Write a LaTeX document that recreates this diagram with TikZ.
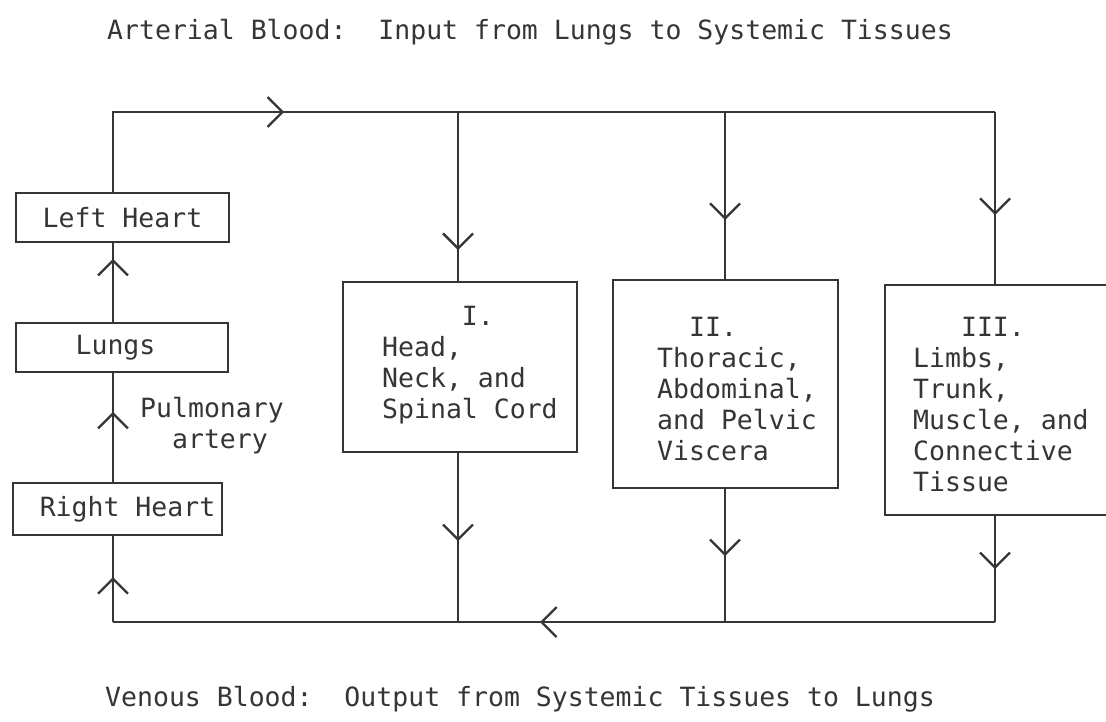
\documentclass[tikz,border=0pt]{standalone}
\usepackage{fontspec}
\newfontfamily\tw{DejaVu Sans Mono}
\usetikzlibrary{arrows.meta,decorations.markings}
\definecolor{ink}{HTML}{353535}
\begin{document}
\begin{tikzpicture}[x=1pt,y=-1pt,
  every node/.style={font=\tw\fontsize{26.5}{31}\selectfont, text=ink},
  line/.style={draw=ink, line width=2.4pt, line join=miter},
  box/.style={draw=ink, line width=2.4pt, inner sep=0pt},
  txt/.style={anchor=west, align=left, inner sep=0pt},
  midarr/.style={postaction={decorate,decoration={markings,
      mark=at position #1 with {\arrow[ink]{Straight Barb[length=15pt,width=30pt,line width=2.3pt]}}}}},
]
\useasboundingbox (0,0) rectangle (1106,721);

% titles
\node[anchor=base west, inner sep=0pt] (top) at (107,39)
  {Arterial Blood:\ \ Input from Lungs to Systemic Tissues};
\node[anchor=base west, inner sep=0pt] (bot) at (105,706)
  {Venous Blood:\ \ Output from Systemic Tissues to Lungs};

% left chain boxes
\node[box, minimum width=213pt, minimum height=49pt] (LH) at (122.5,217.5) {Left Heart};
\node[box, minimum width=212pt, minimum height=49pt] (LU) at (122,347.5) {Lungs\hspace*{13pt}};
\node[box, minimum width=209pt, minimum height=52pt] (RH) at (117.5,509) {\hspace*{20pt}Right Heart};
\node[txt] (pa) at (140,426) {Pulmonary\\\phantom{xx}artery};

% tissue boxes
\node[box, minimum width=234pt, minimum height=170pt] (b1) at (460,367) {};
\node[box, minimum width=225pt, minimum height=208pt] (b2) at (725.5,384) {};
\node[box, minimum width=235pt, minimum height=230pt] (b3) at (1002.5,400) {};
\node[txt] (t1) at (382,365) {\phantom{xxxxx}I.\\Head,\\Neck, and\\Spinal Cord};
\node[txt] (t2) at (657,389) {\phantom{xx}II.\\Thoracic,\\Abdominal,\\and Pelvic\\Viscera};
\node[txt] (t3) at (913,405) {\phantom{xxx}III.\\Limbs,\\Trunk,\\Muscle, and\\Connective\\Tissue};

% junctions
\coordinate (tl) at (113,112);
\coordinate (j1) at (458,112);
\coordinate (j2) at (725,112);
\coordinate (j3) at (995,112);
\coordinate (bl) at (113,622);
\coordinate (k1) at (458,622);
\coordinate (k2) at (725,622);
\coordinate (k3) at (995,622);

% left chain
\draw[line, midarr=45pt] (bl) -- (bl |- RH.south);
\draw[line, midarr=70pt] (tl |- RH.north) -- (tl |- LU.south);
\draw[line, midarr=63pt] (tl |- LU.north) -- (tl |- LH.south);
\draw[line, midarr=251pt] (tl |- LH.north) -- (tl) -- (j1) -- (j2) -- (j3);

% supply to tissues
\draw[line, midarr=138pt] (j1) -- (j1 |- b1.north);
\draw[line, midarr=108pt] (j2) -- (j2 |- b2.north);
\draw[line, midarr=103pt] (j3) -- (j3 |- b3.north);

% return from tissues
\draw[line, midarr=88pt] (k1 |- b1.south) -- (k1);
\draw[line, midarr=67pt] (k2 |- b2.south) -- (k2);
\draw[line, midarr=53pt] (k3 |- b3.south) -- (k3);
\draw[line, midarr=455pt] (k3) -- (k2) -- (k1) -- (bl);
\end{tikzpicture}
\end{document}
